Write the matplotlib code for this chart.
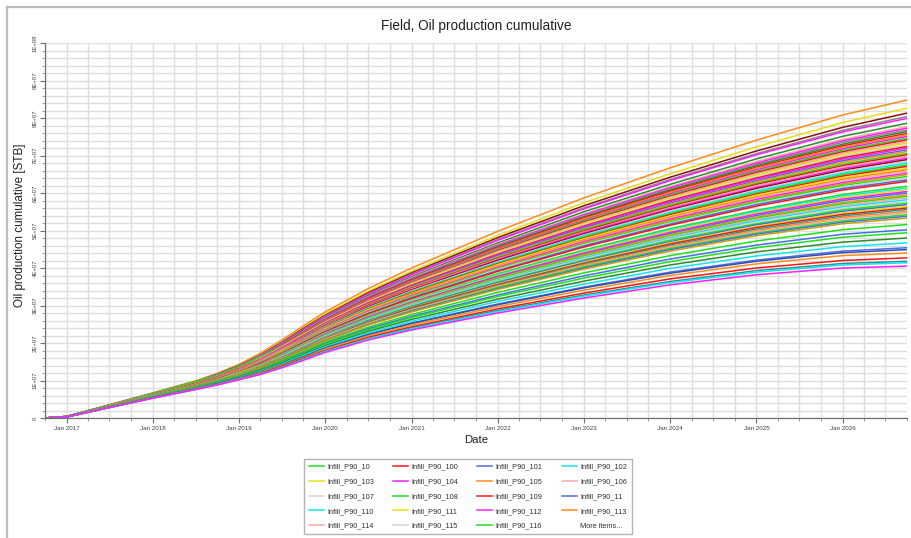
import matplotlib
matplotlib.use("Agg")
import matplotlib.pyplot as plt
import matplotlib.dates as mdates
from matplotlib.ticker import MultipleLocator, FuncFormatter
from matplotlib.lines import Line2D
import numpy as np

plt.rcParams['font.family'] = ['Liberation Sans', 'DejaVu Sans']

# Report dates of the cumulative oil production samples
dates = np.array(['2016-10-01', '2017-01-01', '2018-01-01', '2018-07-01',
                  '2018-10-01', '2019-01-01', '2019-04-01', '2019-07-01',
                  '2019-10-01', '2020-01-01', '2020-07-01', '2021-01-01',
                  '2022-01-01', '2023-01-01', '2024-01-01', '2025-01-01',
                  '2026-01-01', '2026-10-01'], dtype='datetime64[D]')

# Field cumulative oil per infill case, in million STB
cum_oil_mmstb = [
    [0, 0.4, 6.7, 9.9, 11.9, 14.3, 17.3, 20.8, 24.6, 28.3, 34.5, 40.0, 49.8, 58.7, 66.7, 74.1, 80.8, 84.8],
    [0, 0.4, 6.6, 9.8, 11.7, 14.1, 17.0, 20.4, 24.1, 27.8, 33.8, 39.2, 48.7, 57.4, 65.1, 72.3, 78.8, 82.6],
    [0, 0.4, 6.6, 9.7, 11.7, 14.0, 16.8, 20.2, 23.9, 27.4, 33.4, 38.7, 48.1, 56.6, 64.2, 71.2, 77.5, 81.3],
    [0, 0.4, 6.6, 9.7, 11.6, 13.9, 16.7, 20.1, 23.7, 27.2, 33.1, 38.4, 47.6, 56.0, 63.6, 70.5, 76.7, 80.4],
    [0, 0.4, 6.5, 9.6, 11.6, 13.8, 16.7, 20.0, 23.6, 27.1, 33.0, 38.2, 47.4, 55.8, 63.3, 70.2, 76.3, 79.9],
    [0, 0.4, 6.5, 9.6, 11.5, 13.7, 16.5, 19.8, 23.3, 26.8, 32.6, 37.7, 46.7, 55.0, 62.3, 69.1, 75.1, 78.6],
    [0, 0.4, 6.5, 9.5, 11.4, 13.6, 16.4, 19.6, 23.1, 26.6, 32.3, 37.4, 46.3, 54.4, 61.7, 68.4, 74.3, 77.7],
    [0, 0.4, 6.5, 9.5, 11.4, 13.6, 16.3, 19.5, 23.0, 26.5, 32.2, 37.2, 46.1, 54.2, 61.4, 68.0, 73.9, 77.3],
    [0, 0.4, 6.4, 9.5, 11.3, 13.6, 16.3, 19.5, 22.9, 26.4, 32.0, 37.0, 45.9, 53.9, 61.1, 67.6, 73.5, 76.8],
    [0, 0.4, 6.4, 9.5, 11.3, 13.5, 16.2, 19.4, 22.9, 26.2, 31.9, 36.9, 45.7, 53.6, 60.8, 67.3, 73.0, 76.4],
    [0, 0.4, 6.4, 9.4, 11.3, 13.5, 16.2, 19.3, 22.8, 26.1, 31.8, 36.7, 45.4, 53.4, 60.5, 66.9, 72.6, 75.9],
    [0, 0.4, 6.4, 9.4, 11.2, 13.4, 16.1, 19.2, 22.7, 26.0, 31.6, 36.5, 45.2, 53.1, 60.1, 66.6, 72.2, 75.5],
    [0, 0.4, 6.4, 9.4, 11.2, 13.4, 16.0, 19.2, 22.6, 25.9, 31.5, 36.4, 45.0, 52.8, 59.8, 66.2, 71.8, 75.1],
    [0, 0.4, 6.6, 9.7, 11.5, 13.7, 16.3, 19.1, 22.5, 25.8, 31.3, 36.2, 44.8, 52.6, 59.5, 65.8, 71.4, 74.6],
    [0, 0.4, 6.4, 9.3, 11.2, 13.3, 15.9, 19.0, 22.4, 25.7, 31.2, 36.0, 44.6, 52.3, 59.2, 65.5, 71.0, 74.2],
    [0, 0.4, 6.4, 9.3, 11.1, 13.3, 15.9, 19.0, 22.3, 25.6, 31.1, 35.9, 44.4, 52.0, 58.9, 65.1, 70.6, 73.7],
    [0, 0.4, 6.3, 9.3, 11.1, 13.2, 15.8, 18.9, 22.2, 25.5, 30.9, 35.7, 44.1, 51.8, 58.6, 64.8, 70.2, 73.3],
    [0, 0.4, 6.3, 9.3, 11.1, 13.2, 15.8, 18.8, 22.1, 25.4, 30.8, 35.5, 43.9, 51.5, 58.3, 64.4, 69.8, 72.8],
    [0, 0.4, 6.3, 9.3, 11.0, 13.2, 15.7, 18.7, 22.0, 25.3, 30.7, 35.4, 43.7, 51.2, 58.0, 64.0, 69.4, 72.4],
    [0, 0.4, 6.3, 9.2, 11.0, 13.1, 15.6, 18.7, 21.9, 25.2, 30.5, 35.2, 43.5, 51.0, 57.7, 63.7, 69.0, 72.0],
    [0, 0.4, 5.9, 8.8, 10.5, 12.5, 15.1, 18.2, 21.8, 25.1, 30.4, 35.1, 43.3, 50.7, 57.3, 63.3, 68.6, 71.5],
    [0, 0.4, 6.3, 9.2, 10.9, 13.0, 15.5, 18.5, 21.7, 25.0, 30.3, 34.9, 43.0, 50.4, 57.0, 63.0, 68.2, 71.1],
    [0, 0.4, 6.3, 9.2, 10.9, 13.0, 15.5, 18.4, 21.7, 24.8, 30.1, 34.7, 42.8, 50.2, 56.7, 62.6, 67.7, 70.6],
    [0, 0.4, 6.2, 9.1, 10.9, 12.9, 15.4, 18.4, 21.6, 24.7, 30.0, 34.6, 42.6, 49.9, 56.4, 62.3, 67.3, 70.2],
    [0, 0.4, 6.2, 9.1, 10.8, 12.9, 15.4, 18.3, 21.5, 24.6, 29.8, 34.4, 42.4, 49.6, 56.1, 61.9, 66.9, 69.7],
    [0, 0.4, 6.2, 9.1, 10.8, 12.9, 15.3, 18.2, 21.4, 24.5, 29.7, 34.2, 42.2, 49.4, 55.8, 61.5, 66.5, 69.3],
    [0, 0.4, 6.2, 9.1, 10.8, 12.8, 15.2, 18.1, 21.3, 24.4, 29.6, 34.1, 42.0, 49.1, 55.5, 61.2, 66.1, 68.9],
    [0, 0.4, 6.2, 9.0, 10.8, 12.8, 15.2, 18.1, 21.2, 24.3, 29.4, 33.9, 41.7, 48.8, 55.2, 60.8, 65.7, 68.4],
    [0, 0.4, 6.2, 9.0, 10.7, 12.5, 14.8, 17.7, 21.1, 24.2, 29.3, 33.7, 41.5, 48.6, 54.8, 60.5, 65.3, 68.0],
    [0, 0.4, 6.2, 9.0, 10.7, 12.7, 15.1, 17.9, 21.0, 24.1, 29.2, 33.6, 41.3, 48.3, 54.5, 60.1, 64.9, 67.5],
    [0, 0.4, 6.1, 9.0, 10.7, 12.7, 15.0, 17.8, 20.9, 24.0, 29.0, 33.4, 41.1, 48.0, 54.2, 59.7, 64.5, 67.1],
    [0, 0.4, 6.1, 9.0, 10.6, 12.6, 15.0, 17.8, 20.8, 23.9, 28.9, 33.2, 40.9, 47.8, 53.9, 59.4, 64.1, 66.6],
    [0, 0.4, 6.1, 8.9, 10.6, 12.6, 14.9, 17.7, 20.7, 23.8, 28.7, 33.1, 40.6, 47.5, 53.6, 59.0, 63.7, 66.2],
    [0, 0.4, 6.1, 8.9, 10.6, 12.5, 14.8, 17.6, 20.6, 23.7, 28.6, 32.9, 40.4, 47.2, 53.3, 58.7, 63.3, 65.8],
    [0, 0.4, 6.1, 8.9, 10.5, 12.5, 14.8, 17.5, 20.6, 23.5, 28.5, 32.7, 40.2, 47.0, 53.0, 58.3, 62.8, 65.3],
    [0, 0.4, 6.1, 8.9, 10.5, 12.5, 14.7, 17.5, 20.5, 23.4, 28.3, 32.6, 40.0, 46.7, 52.7, 57.9, 62.4, 64.9],
    [0, 0.4, 6.1, 8.8, 10.5, 12.4, 14.7, 17.4, 20.4, 23.3, 28.2, 32.4, 39.8, 46.4, 52.3, 57.6, 62.0, 64.4],
    [0, 0.4, 6.0, 8.8, 10.4, 12.4, 14.6, 17.3, 20.3, 23.2, 28.1, 32.2, 39.6, 46.2, 52.0, 57.2, 61.6, 64.0],
    [0, 0.4, 6.0, 8.8, 10.4, 12.3, 14.6, 17.2, 20.2, 23.1, 27.9, 32.1, 39.3, 45.9, 51.7, 56.9, 61.2, 63.5],
    [0, 0.4, 6.0, 8.8, 10.4, 12.3, 14.5, 17.2, 20.1, 23.0, 27.8, 31.9, 39.1, 45.6, 51.4, 56.5, 60.8, 63.1],
    [0, 0.3, 6.0, 8.7, 10.3, 12.2, 14.3, 17.0, 19.8, 22.7, 27.4, 31.4, 38.5, 44.8, 50.5, 55.4, 59.6, 61.8],
    [0, 0.3, 5.7, 8.4, 9.9, 11.8, 14.0, 16.9, 19.7, 22.6, 27.2, 31.3, 38.2, 44.5, 50.2, 55.1, 59.2, 61.3],
    [0, 0.3, 5.9, 8.7, 10.2, 12.1, 14.2, 16.8, 19.6, 22.5, 27.1, 31.1, 38.0, 44.3, 49.9, 54.7, 58.8, 60.9],
    [0, 0.3, 5.9, 8.6, 10.2, 12.0, 14.2, 16.7, 19.5, 22.4, 27.0, 30.9, 37.8, 44.0, 49.5, 54.4, 58.4, 60.4],
    [0, 0.3, 5.5, 8.2, 9.7, 11.5, 13.8, 16.7, 19.4, 22.3, 26.8, 30.8, 37.6, 43.7, 49.2, 54.0, 58.0, 60.0],
    [0, 0.3, 5.9, 8.6, 10.1, 12.0, 14.1, 16.6, 19.4, 22.1, 26.7, 30.6, 37.4, 43.5, 48.9, 53.6, 57.5, 59.5],
    [0, 0.3, 5.9, 8.6, 10.1, 11.9, 14.0, 16.5, 19.3, 22.0, 26.6, 30.4, 37.2, 43.2, 48.6, 53.3, 57.1, 59.1],
    [0, 0.3, 5.9, 8.5, 10.1, 11.9, 13.9, 16.4, 19.2, 21.9, 26.4, 30.3, 36.9, 42.9, 48.3, 52.9, 56.7, 58.7],
    [0, 0.3, 5.9, 8.5, 10.0, 11.8, 13.9, 16.4, 19.1, 21.8, 26.3, 30.1, 36.7, 42.7, 48.0, 52.6, 56.3, 58.2],
    [0, 0.3, 5.8, 8.5, 10.0, 11.8, 13.8, 16.3, 19.0, 21.7, 26.1, 29.9, 36.5, 42.4, 47.7, 52.2, 55.9, 57.8],
    [0, 0.3, 5.8, 8.5, 10.0, 11.8, 13.8, 16.2, 18.9, 21.6, 26.0, 29.8, 36.3, 42.1, 47.4, 51.8, 55.5, 57.3],
    [0, 0.3, 5.8, 8.5, 9.9, 11.7, 13.7, 16.1, 18.8, 21.5, 25.9, 29.6, 36.1, 41.9, 47.0, 51.5, 55.1, 56.9],
    [0, 0.3, 5.8, 8.4, 9.9, 11.7, 13.7, 16.1, 18.7, 21.4, 25.7, 29.4, 35.8, 41.6, 46.7, 51.1, 54.7, 56.4],
    [0, 0.3, 5.8, 8.4, 9.9, 11.6, 13.6, 16.0, 18.6, 21.3, 25.6, 29.3, 35.6, 41.3, 46.4, 50.8, 54.3, 56.0],
    [0, 0.3, 5.8, 8.4, 9.9, 11.6, 13.5, 15.9, 18.5, 21.2, 25.5, 29.1, 35.4, 41.1, 46.1, 50.4, 53.9, 55.6],
    [0, 0.3, 5.8, 8.4, 9.8, 11.6, 13.5, 15.8, 18.4, 21.1, 25.3, 28.9, 35.2, 40.8, 45.8, 50.0, 53.5, 55.1],
    [0, 0.3, 5.7, 8.3, 9.8, 11.5, 13.4, 15.8, 18.3, 21.0, 25.2, 28.8, 35.0, 40.5, 45.5, 49.7, 53.1, 54.7],
    [0, 0.3, 5.7, 8.3, 9.8, 11.5, 13.4, 15.7, 18.3, 20.8, 25.0, 28.6, 34.8, 40.3, 45.2, 49.3, 52.6, 54.2],
    [0, 0.3, 5.7, 8.3, 9.7, 11.4, 13.3, 15.6, 18.2, 20.7, 24.9, 28.5, 34.5, 40.0, 44.9, 49.0, 52.2, 53.8],
    [0, 0.3, 5.7, 8.3, 9.7, 11.4, 13.3, 15.5, 18.1, 20.6, 24.8, 28.3, 34.3, 39.7, 44.5, 48.6, 51.8, 53.3],
    [0, 0.3, 5.7, 8.2, 9.6, 11.2, 13.0, 15.3, 17.7, 20.2, 24.2, 27.6, 33.5, 38.7, 43.3, 47.2, 50.2, 51.6],
    [0, 0.3, 5.6, 8.1, 9.5, 11.1, 12.9, 15.0, 17.4, 19.9, 23.8, 27.1, 32.8, 37.9, 42.4, 46.1, 49.0, 50.2],
    [0, 0.3, 5.6, 8.1, 9.4, 11.0, 12.7, 14.9, 17.2, 19.7, 23.5, 26.8, 32.4, 37.3, 41.7, 45.4, 48.2, 49.4],
    [0, 0.3, 5.5, 8.0, 9.3, 10.9, 12.6, 14.7, 17.0, 19.3, 23.1, 26.3, 31.7, 36.5, 40.8, 44.3, 46.9, 48.0],
    [0, 0.3, 5.5, 7.9, 9.2, 10.8, 12.4, 14.4, 16.7, 19.0, 22.7, 25.8, 31.1, 35.7, 39.9, 43.2, 45.7, 46.7],
    [0, 0.3, 5.5, 7.9, 9.1, 10.7, 12.2, 14.2, 16.4, 18.7, 22.3, 25.3, 30.4, 34.9, 38.9, 42.1, 44.5, 45.4],
    [0, 0.3, 5.4, 7.8, 9.1, 10.6, 12.2, 14.1, 16.3, 18.6, 22.2, 25.2, 30.2, 34.7, 38.6, 41.8, 44.1, 44.9],
    [0, 0.3, 5.4, 7.8, 9.0, 10.5, 12.1, 14.0, 16.1, 18.4, 21.9, 24.8, 29.7, 34.1, 38.0, 41.1, 43.3, 44.0],
    [0, 0.3, 5.4, 7.7, 9.0, 10.4, 11.9, 13.8, 15.9, 18.0, 21.5, 24.3, 29.1, 33.3, 37.1, 40.0, 42.0, 42.7],
    [0, 0.3, 5.3, 7.7, 8.9, 10.3, 11.8, 13.6, 15.7, 17.8, 21.2, 24.0, 28.7, 32.8, 36.4, 39.3, 41.2, 41.8],
    [0, 0.3, 5.3, 7.6, 8.9, 10.3, 11.7, 13.5, 15.6, 17.7, 21.1, 23.8, 28.4, 32.5, 36.1, 38.9, 40.8, 41.4],
    [0, 0.3, 5.3, 7.6, 8.8, 10.2, 11.6, 13.4, 15.4, 17.5, 20.8, 23.5, 28.0, 32.0, 35.5, 38.2, 40.0, 40.5],
]

# Line colour keys, one per case (same order as cum_oil_mmstb)
curve_colors = [
    'O', 'Y', 'DR', 'GR', 'M', 'DG',
    'P', 'M', 'GR', 'DG', 'R', 'O', 'M', 'G', 'R', 'P', 'Y', 'L', 'R', 'M',
    'B', 'O', 'G', 'R', 'P', 'M', 'DR', 'L', 'C', 'G', 'R', 'Y', 'O', 'P',
    'M', 'GO', 'G', 'L', 'B', 'R',
    'G', 'C', 'Y', 'M', 'B', 'O', 'G', 'P', 'C', 'L', 'G', 'B', 'Y', 'R',
    'T', 'O', 'P', 'G', 'B', 'GO',
    'G', 'B', 'G', 'DG', 'C', 'B', 'NB', 'O', 'R', 'T', 'C', 'M',
]

palette = {
    'G': '#1ee01e', 'R': '#ff1414', 'B': '#4a6ee6', 'C': '#12e4f0',
    'Y': '#e4e014', 'M': '#ff1eff', 'O': '#ff8c1a', 'P': '#ffa4a4',
    'L': '#d2d2d2', 'DR': '#8b1010', 'GR': '#8a8a8a', 'DG': '#2e8b2e',
    'T': '#2a9494', 'GO': '#c8a000', 'NB': '#3450a8',
}

# Legend entries (row by row) and the case each one refers to
legend_names = ['Infill_P90_10', 'Infill_P90_100', 'Infill_P90_101', 'Infill_P90_102',
                'Infill_P90_103', 'Infill_P90_104', 'Infill_P90_105', 'Infill_P90_106',
                'Infill_P90_107', 'Infill_P90_108', 'Infill_P90_109', 'Infill_P90_11',
                'Infill_P90_110', 'Infill_P90_111', 'Infill_P90_112', 'Infill_P90_113',
                'Infill_P90_114', 'Infill_P90_115', 'Infill_P90_116']
legend_curves = [13, 10, 20, 28, 16, 7, 11, 6, 17, 22, 14, 38, 41, 31, 12, 0, 15, 27, 29]

W, H = 912, 538
fig = plt.figure(figsize=(W / 100, H / 100), dpi=100)
ax = fig.add_axes([45 / W, 1 - 418 / H, (907 - 45) / W, (418 - 43) / H])

lines = []
for row, key in zip(cum_oil_mmstb, curve_colors):
    ln, = ax.plot(dates, np.array(row) * 1e6, color=palette[key], lw=1.1)
    lines.append(ln)

ax.set_xlim(np.datetime64('2016-10-01'), np.datetime64('2026-10-01'))
ax.set_ylim(0, 1e8)

ax.xaxis.set_major_locator(mdates.YearLocator())
ax.xaxis.set_minor_locator(mdates.MonthLocator(bymonth=[1, 4, 7, 10]))
ax.xaxis.set_major_formatter(mdates.DateFormatter('%b %Y'))
ax.yaxis.set_major_locator(MultipleLocator(1e7))
ax.yaxis.set_minor_locator(MultipleLocator(2e6))
ax.yaxis.set_major_formatter(FuncFormatter(lambda v, p: '0' if v == 0 else f'{v:.0E}'))

ax.grid(which='both', color='#dedede', lw=1.0)
ax.set_axisbelow(True)
for s in ('top', 'right'):
    ax.spines[s].set_visible(False)
for s in ('left', 'bottom'):
    ax.spines[s].set_color('#707070')
    ax.spines[s].set_linewidth(0.9)

ax.tick_params(which='major', direction='out', length=3.5, width=0.8, color='#707070',
               labelsize=4.5, labelcolor='#404040', pad=2)
ax.tick_params(which='minor', direction='out', length=2, width=0.6, color='#909090')
ax.tick_params(axis='y', labelrotation=90, labelsize=4.3)
for lab in ax.get_yticklabels():
    lab.set_va('center')

fig.text(476 / W, 1 - 26 / H, 'Field, Oil production cumulative', ha='center',
         va='center', fontsize=9.8, color='#202020')
fig.text(20 / W, 1 - 225 / H, 'Oil production cumulative [STB]', rotation=90,
         ha='center', va='center', fontsize=8.4, color='#202020')
fig.text(476 / W, 1 - 440 / H, 'Date', ha='center', va='center', fontsize=8.2,
         color='#202020')

# Legend laid out row by row in four columns
entries = [(lines[i], name) for i, name in zip(legend_curves, legend_names)]
entries.append((Line2D([], [], color='none'), 'More items...'))
ncol, nrow = 4, 5
ordered = [entries[r * ncol + c] for c in range(ncol) for r in range(nrow)]
leg = fig.legend([h for h, _ in ordered], [t for _, t in ordered], ncol=ncol,
                 loc='upper left', bbox_to_anchor=(304 / W, 1 - 459 / H),
                 borderaxespad=0, fontsize=5.3, frameon=True, fancybox=False,
                 edgecolor='#a0a0a0', handlelength=2.05, handletextpad=0.45,
                 columnspacing=2.6, labelspacing=1.03, borderpad=0.62)
leg.get_frame().set_linewidth(1.0)
for t in leg.get_texts():
    t.set_color('#303030')

# Window frame along the top and left edges
fig.add_artist(Line2D([7 / W, 7 / W], [0, 1 - 7 / H], color='#bdbdbd', lw=1.6))
fig.add_artist(Line2D([7 / W, 1], [1 - 7 / H, 1 - 7 / H], color='#bdbdbd', lw=1.6))

fig.savefig('out.png', dpi=100)
